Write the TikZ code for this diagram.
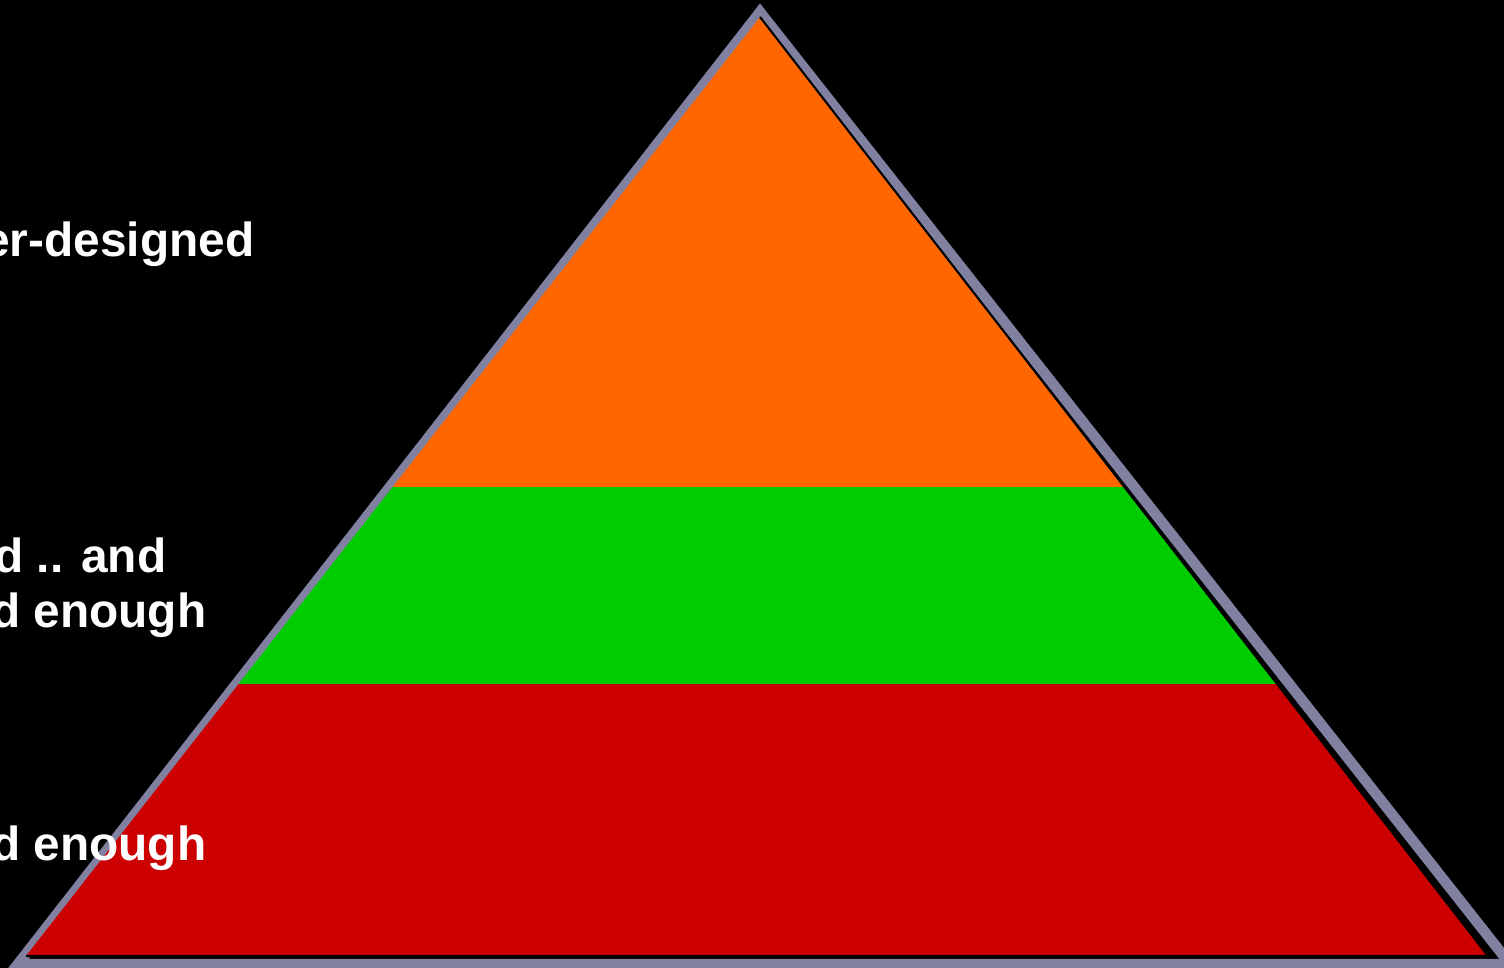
\documentclass[tikz,border=0pt]{standalone}
\usepackage{fontspec}
\setmainfont{Liberation Sans}
\definecolor{rimgray}{RGB}{128,128,160}
\definecolor{tiertop}{RGB}{255,102,0}
\definecolor{tiermid}{RGB}{0,204,0}
\definecolor{tierlow}{RGB}{204,0,0}
\tikzset{
  lbl/.style={text=white,font=\bfseries\fontsize{13.6}{16}\selectfont,inner sep=0pt,anchor=base east},
  rim/.style={draw=rimgray,line width=0.105cm,line join=miter},
}
\begin{document}
\begin{tikzpicture}[x=0.01cm,y=-0.01cm]
\fill[black] (0,0) rectangle (1504,968);
\useasboundingbox (0,0) rectangle (1504,968);
% fill corners and rim corners
\coordinate (ftop) at (760,17);
\coordinate (fl) at (26,956);
\coordinate (fr) at (1488,956);
\coordinate (rtop) at (760,12);
\coordinate (rl) at (18,964);
\coordinate (rr) at (1510,964);
\draw[rim] (rtop)--(rl)--(rr)--cycle;
\begin{scope}
\clip (ftop)--(fl)--(fr)--cycle;
\fill[tiertop] (0,0) rectangle (1504,487);
\fill[tiermid] (0,487) rectangle (1504,684);
\fill[tierlow] (0,684) rectangle (1504,968);
\end{scope}
\draw[black,line width=0.6pt] (ftop)--(fr)--(fl);
% labels, cut at the left edge
\node[lbl] (top) at (255,257) {er-designed};
\node[lbl] (mida) at (167,573) {d .. and};
\node[lbl] (midb) at (207,628) {d enough};
\node[lbl] (low) at (207,860) {d enough};
\end{tikzpicture}
\end{document}
